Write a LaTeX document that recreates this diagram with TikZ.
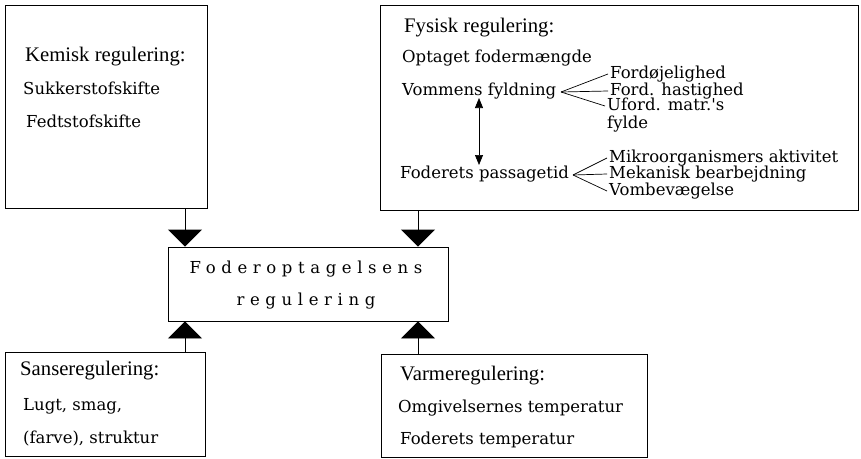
\documentclass[tikz,border=0pt]{standalone}
\usepackage{fontspec}
\setmainfont{Liberation Serif}
\newfontfamily\bodyfont{DejaVu Serif}
\newfontfamily\spacedfont[LetterSpace=34]{DejaVu Serif}
\usetikzlibrary{arrows.meta}
\begin{document}
\begin{tikzpicture}[x=1pt,y=-1pt,
  box/.style={draw, line width=0.9pt, inner sep=0pt},
  head/.style={anchor=base west, inner sep=0pt, font=\fontsize{20.7}{24}\selectfont},
  item/.style={anchor=base west, inner sep=0pt, font=\bodyfont\fontsize{16.5}{19}\selectfont},
  ctext/.style={anchor=base, inner sep=0pt, font=\spacedfont\fontsize{16.5}{19}\selectfont},
  bigarrow/.style={line width=0.9pt, -{Triangle[width=34pt,length=17pt]}},
  branch/.style={line width=0.7pt},
  dbl/.style={line width=0.7pt, {Triangle[width=8pt,length=10pt]}-{Triangle[width=8pt,length=10pt]}}]
\useasboundingbox (0,0) rectangle (861,458);
\fill[white] (0,0) rectangle (861,458);
% boxes
\node[box, minimum width=202pt, minimum height=203pt] (kem) at (106,106.5) {};
\node[box, minimum width=478pt, minimum height=205pt] (fys) at (619,107.5) {};
\node[box, minimum width=280pt, minimum height=74pt] (cen) at (308,284) {};
\node[box, minimum width=200pt, minimum height=104pt] (san) at (105,404) {};
\node[box, minimum width=266pt, minimum height=103pt] (var) at (514,405.5) {};
% Kemisk
\node[head] (kh) at (25,61) {Kemisk regulering:};
\node[item] (k1) at (23,94) {Sukkerstofskifte};
\node[item] (k2) at (26,127) {Fedtstofskifte};
% Fysisk
\node[head] (fh) at (404,32) {Fysisk regulering:};
\node[item] (og) at (402,62) {Optaget fodermængde};
\node[item] (vf) at (402,95) {Vommens fyldning};
\node[item] (fd) at (610,78) {Fordøjelighed};
\node[item] (fo) at (610,95) {Ford. hastighed};
\node[item] (uf) at (607,110) {Uford. matr.'s};
\node[item] (fy) at (607,128) {fylde};
\node[item] (fp) at (400,178) {Foderets passagetid};
\node[item] (mi) at (609,162) {Mikroorganismers aktivitet};
\node[item] (me) at (609,178) {Mekanisk bearbejdning};
\node[item] (vo) at (609,195) {Vombevægelse};
% branches
\coordinate (vb) at (561,92);
\draw[branch] (vb) -- ([xshift=-2pt,yshift=4pt]fd.base west);
\draw[branch] (vb) -- ([xshift=-2pt,yshift=4pt]fo.base west);
\draw[branch] (vb) -- ([xshift=-2pt,yshift=4pt]uf.base west);
\coordinate (pb) at (573,175);
\draw[branch] (pb) -- ([xshift=-2pt,yshift=4pt]mi.base west);
\draw[branch] (pb) -- ([xshift=-2pt,yshift=4pt]me.base west);
\draw[branch] (pb) -- ([xshift=-2pt,yshift=4pt]vo.base west);
% double arrow
\coordinate (da) at (479,98);
\coordinate (db) at (479,165);
\draw[dbl] (da) -- (db);
% centre
\node[ctext] (c1) at (306,273) {Foderoptagelsens};
\node[ctext] (c2) at (306,305) {regulering};
% Sanse
\node[head] (sh) at (20,375) {Sanseregulering:};
\node[item] (s1) at (23,410) {Lugt, smag,};
\node[item] (s2) at (23,443) {(farve), struktur};
% Varme
\node[head] (vh) at (400,380) {Varmeregulering:};
\node[item] (v1) at (398,412) {Omgivelsernes temperatur};
\node[item] (v2) at (400,444) {Foderets temperatur};
% big arrows
\coordinate (xl) at (185,0);
\coordinate (xr) at (418,0);
\draw[bigarrow] (kem.south -| xl) -- (cen.north -| xl);
\draw[bigarrow] (fys.south -| xr) -- (cen.north -| xr);
\draw[bigarrow] (san.north -| xl) -- (cen.south -| xl);
\draw[bigarrow] (var.north -| xr) -- (cen.south -| xr);
\end{tikzpicture}
\end{document}
